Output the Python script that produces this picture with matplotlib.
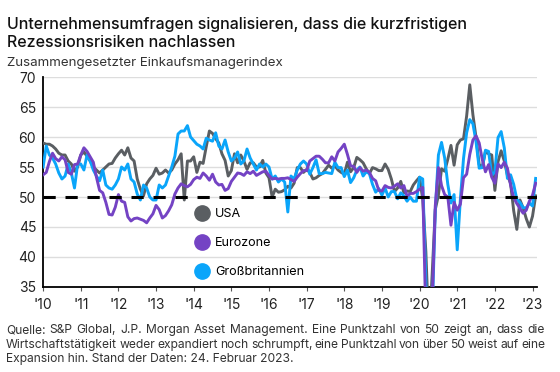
import numpy as np
import matplotlib.pyplot as plt
from matplotlib.lines import Line2D

plt.rcParams['font.family'] = ['Inter', 'DejaVu Sans']

## Daten: monatliche Werte, Jan 2010 bis Feb 2023
usa = [
    59.0, 58.8, 58.8, 58.5, 58.0, 57.3, 57.0, 57.0, 56.0, 55.5, 54.3, 55.0,  # 2010
    57.0, 57.5, 56.8, 56.0, 55.0, 54.5, 54.0, 54.5, 55.0, 55.5, 55.6, 56.5,  # 2011
    57.2, 57.8, 57.0, 58.2, 56.5, 56.0, 53.0, 51.3, 50.2, 52.2, 53.0, 53.6,  # 2012
    54.8, 53.8, 54.0, 54.5, 54.0, 54.5, 55.5, 56.2, 57.2, 49.5, 56.0, 56.0,  # 2013
    56.7, 54.1, 55.8, 55.6, 58.4, 61.0, 60.6, 59.7, 59.0, 57.2, 56.1, 53.5,  # 2014
    54.4, 57.2, 55.7, 57.0, 56.0, 54.6, 55.7, 55.7, 55.0, 55.0, 56.1, 54.0,  # 2015
    53.2, 50.0, 51.3, 50.8, 50.9, 51.2, 51.8, 51.5, 52.3, 54.9, 54.9, 54.1,  # 2016
    54.6, 54.1, 53.0, 53.2, 53.6, 53.9, 54.6, 55.3, 54.8, 55.2, 54.5, 54.1,  # 2017
    53.8, 55.8, 54.2, 54.9, 56.6, 56.2, 55.7, 54.7, 53.9, 54.9, 54.7, 54.4,  # 2018
    54.4, 55.5, 54.6, 53.0, 50.9, 51.5, 52.6, 50.7, 51.0, 50.9, 52.0, 52.7,  # 2019
    53.3, 49.6, 40.9, 27.0, 37.0, 47.9, 50.3, 54.7, 54.3, 56.3, 58.6, 55.3,  # 2020
    58.7, 59.5, 59.7, 63.5, 68.7, 63.7, 59.9, 55.4, 55.0, 57.6, 57.2, 57.0,  # 2021
    51.1, 55.9, 57.7, 56.0, 53.6, 52.3, 47.7, 44.6, 49.5, 48.2, 46.4, 45.0,  # 2022
    46.8, 50.2,                                                              # 2023
]
eurozone = [
    53.7, 54.1, 55.9, 57.3, 56.4, 56.0, 56.7, 56.2, 54.1, 53.8, 55.4, 55.5,
    57.0, 58.2, 57.6, 56.7, 55.8, 53.3, 51.1, 50.7, 49.1, 47.1, 47.0, 48.3,
    50.4, 49.3, 49.1, 46.7, 46.0, 46.4, 46.5, 46.3, 46.1, 45.7, 46.5, 47.2,
    48.6, 47.9, 46.5, 46.9, 47.7, 48.7, 50.5, 51.5, 52.2, 51.9, 51.7, 52.1,
    52.9, 53.3, 53.1, 54.0, 53.5, 52.8, 53.8, 52.5, 52.0, 52.1, 51.1, 51.4,
    52.6, 53.3, 54.0, 53.9, 53.6, 54.2, 53.9, 54.3, 53.6, 53.9, 54.2, 54.3,
    53.6, 53.0, 53.1, 53.0, 53.1, 53.1, 53.2, 52.9, 52.6, 53.3, 53.9, 54.4,
    54.4, 56.0, 56.4, 56.8, 56.8, 56.3, 55.7, 55.7, 56.7, 56.0, 57.5, 58.1,
    58.8, 57.1, 55.2, 55.1, 54.1, 54.9, 54.3, 54.5, 54.1, 53.1, 52.7, 51.1,
    51.0, 51.9, 51.6, 51.5, 51.8, 52.2, 51.5, 51.9, 50.1, 50.6, 50.6, 50.9,
    51.3, 51.6, 29.7, 13.6, 31.9, 48.5, 54.9, 51.9, 50.4, 50.0, 45.3, 49.1,
    47.8, 48.8, 53.2, 53.8, 57.1, 59.5, 60.2, 59.0, 56.2, 54.2, 55.4, 53.3,
    52.3, 55.5, 54.9, 55.8, 54.8, 52.0, 49.9, 48.9, 48.1, 47.3, 47.8, 49.3,
    50.3, 52.3,
]
uk = [
    55.0, 58.5, 57.0, 56.5, 55.5, 54.0, 53.0, 53.5, 55.5, 54.0, 51.5, 55.5,
    55.5, 54.5, 57.0, 56.0, 54.5, 53.5, 52.7, 54.5, 52.0, 51.5, 51.3, 52.0,
    53.0, 55.0, 54.5, 55.5, 53.0, 52.5, 50.5, 49.5, 52.0, 51.5, 50.0, 49.5,
    49.5, 52.0, 51.5, 52.0, 53.5, 55.0, 56.8, 60.5, 61.0, 61.0, 61.9, 60.0,
    59.4, 58.8, 58.5, 58.0, 59.8, 59.5, 59.3, 60.7, 58.5, 58.0, 59.5, 57.5,
    56.0, 56.5, 57.5, 55.5, 56.0, 58.0, 56.5, 55.5, 54.5, 55.5, 55.0, 55.5,
    55.0, 53.0, 53.5, 52.5, 53.0, 52.5, 47.5, 53.5, 53.0, 54.5, 55.5, 56.0,
    55.5, 53.8, 54.9, 56.2, 53.9, 53.9, 54.1, 54.0, 53.9, 55.8, 54.9, 54.9,
    53.4, 54.5, 52.4, 53.2, 54.5, 55.0, 53.5, 54.2, 53.9, 52.1, 50.8, 51.4,
    50.3, 51.5, 50.0, 50.9, 50.9, 49.7, 50.7, 50.2, 49.3, 50.0, 49.3, 49.3,
    53.3, 53.0, 36.0, 13.8, 30.0, 47.7, 57.0, 59.1, 56.5, 52.1, 49.0, 50.4,
    41.2, 49.6, 56.4, 60.7, 62.9, 62.2, 59.2, 54.8, 54.9, 57.8, 57.6, 53.6,
    54.2, 59.9, 60.9, 58.2, 53.1, 53.7, 52.1, 49.6, 49.1, 48.2, 48.2, 49.0,
    48.5, 53.1,
]

years = list(range(2010, 2024))
year_labels = ["'" + str(y)[2:] for y in years]
t = 2010 + np.arange(len(usa)) / 12

c_usa = '#5a5e62'
c_ez = '#7443c4'
c_uk = '#0aa5fa'

footer = ['Quelle: S&P Global, J.P. Morgan Asset Management. Eine Punktzahl von 50 zeigt an, dass die',
          'Wirtschaftstätigkeit weder expandiert noch schrumpft, eine Punktzahl von über 50 weist auf eine',
          'Expansion hin. Stand der Daten: 24. Februar 2023.']

fig = plt.figure(figsize=(5.6, 3.72), dpi=100)
ax = fig.add_axes([0.077, 0.2285, 0.882, 0.5645])

ax.plot(t, usa, color=c_usa, lw=2.1, solid_joinstyle='round', zorder=3)
ax.plot(t, uk, color=c_uk, lw=2.1, solid_joinstyle='round', zorder=4)
ax.plot(t, eurozone, color=c_ez, lw=2.1, solid_joinstyle='round', zorder=5)
ax.axhline(50, color='black', lw=2.2, dashes=(4, 3.2), zorder=6)

ax.set_xlim(2010, 2023.12)
ax.set_ylim(35, 70)
ax.set_yticks(range(35, 71, 5))
ax.set_xticks(years)
ax.set_xticklabels(year_labels)
ax.tick_params(axis='both', labelsize=10, colors='#222222', length=0, pad=5)
ax.tick_params(axis='x', length=3, width=0.8, color='#555555', pad=5)
ax.grid(axis='y', color='#dddddd', lw=1)
ax.set_axisbelow(True)
for s in ['top', 'right']:
    ax.spines[s].set_visible(False)
for s in ['left', 'bottom']:
    ax.spines[s].set_color('black')
    ax.spines[s].set_linewidth(1.3)

handles = [Line2D([], [], ls='none', marker='o', ms=11, color=c) for c in (c_usa, c_ez, c_uk)]
ax.legend(handles, ['USA', 'Eurozone', 'Großbritannien'], loc='upper left',
          bbox_to_anchor=(0.296, 0.40), frameon=False, fontsize=9.1,
          labelspacing=1.35, handletextpad=0.42, handlelength=1.2, borderaxespad=0)

fig.text(0.012, 0.955, 'Unternehmensumfragen signalisieren, dass die kurzfristigen\nRezessionsrisiken nachlassen',
         fontsize=11.5, fontweight='medium', va='top', ha='left', linespacing=1.3, color='#111111')
fig.text(0.012, 0.848, 'Zusammengesetzter Einkaufsmanagerindex', fontsize=9.6, va='top', ha='left', color='#333333')

# Fußnote im Blocksatz
renderer = fig.canvas.get_renderer()
x0, x1 = 6, 545
fs_foot = 8.7
y_px = [330, 345, 359]
for i, line in enumerate(footer):
    yf = 1 - y_px[i] / 372
    if i == len(footer) - 1:
        fig.text(x0 / 560, yf, line, fontsize=fs_foot, va='center', ha='left', color='#333333')
        continue
    words = line.split(' ')
    objs = [fig.text(0, yf, w, fontsize=fs_foot, va='center', ha='left', color='#333333') for w in words]
    widths = [o.get_window_extent(renderer).width for o in objs]
    gap = (x1 - x0 - sum(widths)) / (len(words) - 1)
    x = x0
    for o, w in zip(objs, widths):
        o.set_x(x / 560)
        x += w + gap

fig.savefig('out.png', dpi=100)
